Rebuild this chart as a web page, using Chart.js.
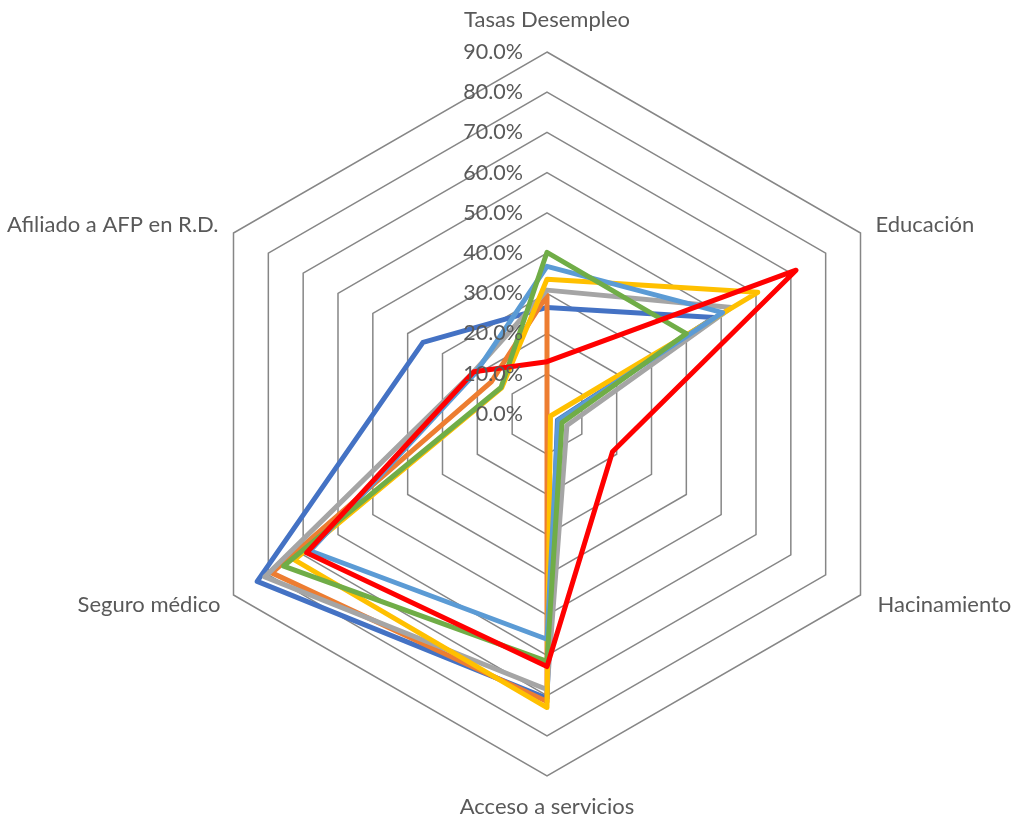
<!DOCTYPE html>
<html>
<head>
<meta charset="utf-8">
<script src="https://cdn.jsdelivr.net/npm/chart.js@4.4.1/dist/chart.umd.min.js"></script>
<style>
  body { margin: 0; background: #fff; }
  #wrap { width: 1016px; height: 823px; }
</style>
</head>
<body>
<div id="wrap"><canvas id="radarChart" width="1016" height="823"></canvas></div>
<script>
const categories = ["Tasas Desempleo", "Educación", "Hacinamiento", "Acceso a servicios", "Seguro médico", "Afiliado a AFP en R.D."];
const tickValues = [0, 10, 20, 30, 40, 50, 60, 70, 80, 90];
const tickLabels = ["0.0%", "10.0%", "20.0%", "30.0%", "40.0%", "50.0%", "60.0%", "70.0%", "80.0%", "90.0%"];

// values in percent
const serie1 = [26.5, 48.0, 3.0, 70.7, 83.2, 35.6];
const serie2 = [29.5, 0.0, 0.0, 71.5, 79.0, 16.0];
const serie3 = [30.8, 53.0, 5.7, 68.5, 81.0, 21.0];
const serie4 = [33.5, 60.5, 1.0, 73.0, 72.5, 13.0];
const serie5 = [36.7, 50.4, 3.2, 56.0, 68.0, 20.5];
const serie6 = [40.2, 40.0, 4.3, 61.5, 75.6, 13.2];
const serie7 = [13.0, 71.5, 18.8, 62.8, 69.0, 21.0];

const seriesData = [serie1, serie2, serie3, serie4, serie5, serie6, serie7];
const seriesColors = ["#4472C4", "#ED7D31", "#A5A5A5", "#FFC000", "#5B9BD5", "#70AD47", "#FF0000"];

const TEXT = "#595959";

// Excel-style labels: ticks left of the vertical axis, category labels outside the vertices
const excelLabels = {
  id: "excelLabels",
  afterDraw(chart) {
    const r = chart.scales.r;
    const ctx = chart.ctx;
    ctx.save();
    ctx.fillStyle = TEXT;
    ctx.textBaseline = "middle";

    ctx.font = "21.5px Lato";
    ctx.textAlign = "right";
    tickValues.forEach((v, i) => {
      const y = r.yCenter - r.getDistanceFromCenterForValue(v);
      ctx.fillText(tickLabels[i], r.xCenter - 24, y);
    });

    ctx.font = "22px Lato";
    const R = r.drawingArea;
    categories.forEach((label, i) => {
      const p = r.getPointPosition(i, R);
      let x = p.x, y = p.y;
      if (i === 0) { ctx.textAlign = "center"; y -= 32; }
      else if (i === 3) { ctx.textAlign = "center"; y += 31; }
      else if (i === 1) { ctx.textAlign = "left"; x += 15; y -= 8; }
      else if (i === 2) { ctx.textAlign = "left"; x += 17; y += 10; }
      else if (i === 4) { ctx.textAlign = "right"; x -= 13; y += 10; }
      else { ctx.textAlign = "right"; x -= 15; y -= 8; }
      ctx.fillText(label, x, y);
    });
    ctx.restore();
  }
};

new Chart(document.getElementById("radarChart"), {
  type: "radar",
  data: {
    labels: categories,
    datasets: seriesData.map((d, i) => ({
      label: "Serie " + (i + 1),
      data: d,
      borderColor: seriesColors[i],
      backgroundColor: "transparent",
      borderWidth: 5,
      borderJoinStyle: "round",
      pointRadius: 0,
      fill: false,
      order: seriesData.length - i
    }))
  },
  options: {
    responsive: false,
    animation: false,
    devicePixelRatio: 1,
    layout: {
      padding: { left: 185, right: 106, top: 52, bottom: 46 }
    },
    plugins: {
      legend: { display: false },
      tooltip: { enabled: false }
    },
    scales: {
      r: {
        min: 0,
        max: 90,
        ticks: { display: false, stepSize: 10 },
        pointLabels: { display: false },
        angleLines: { display: false },
        grid: { color: "#868686", lineWidth: 1.5 }
      }
    }
  },
  plugins: [excelLabels]
});
</script>
</body>
</html>
